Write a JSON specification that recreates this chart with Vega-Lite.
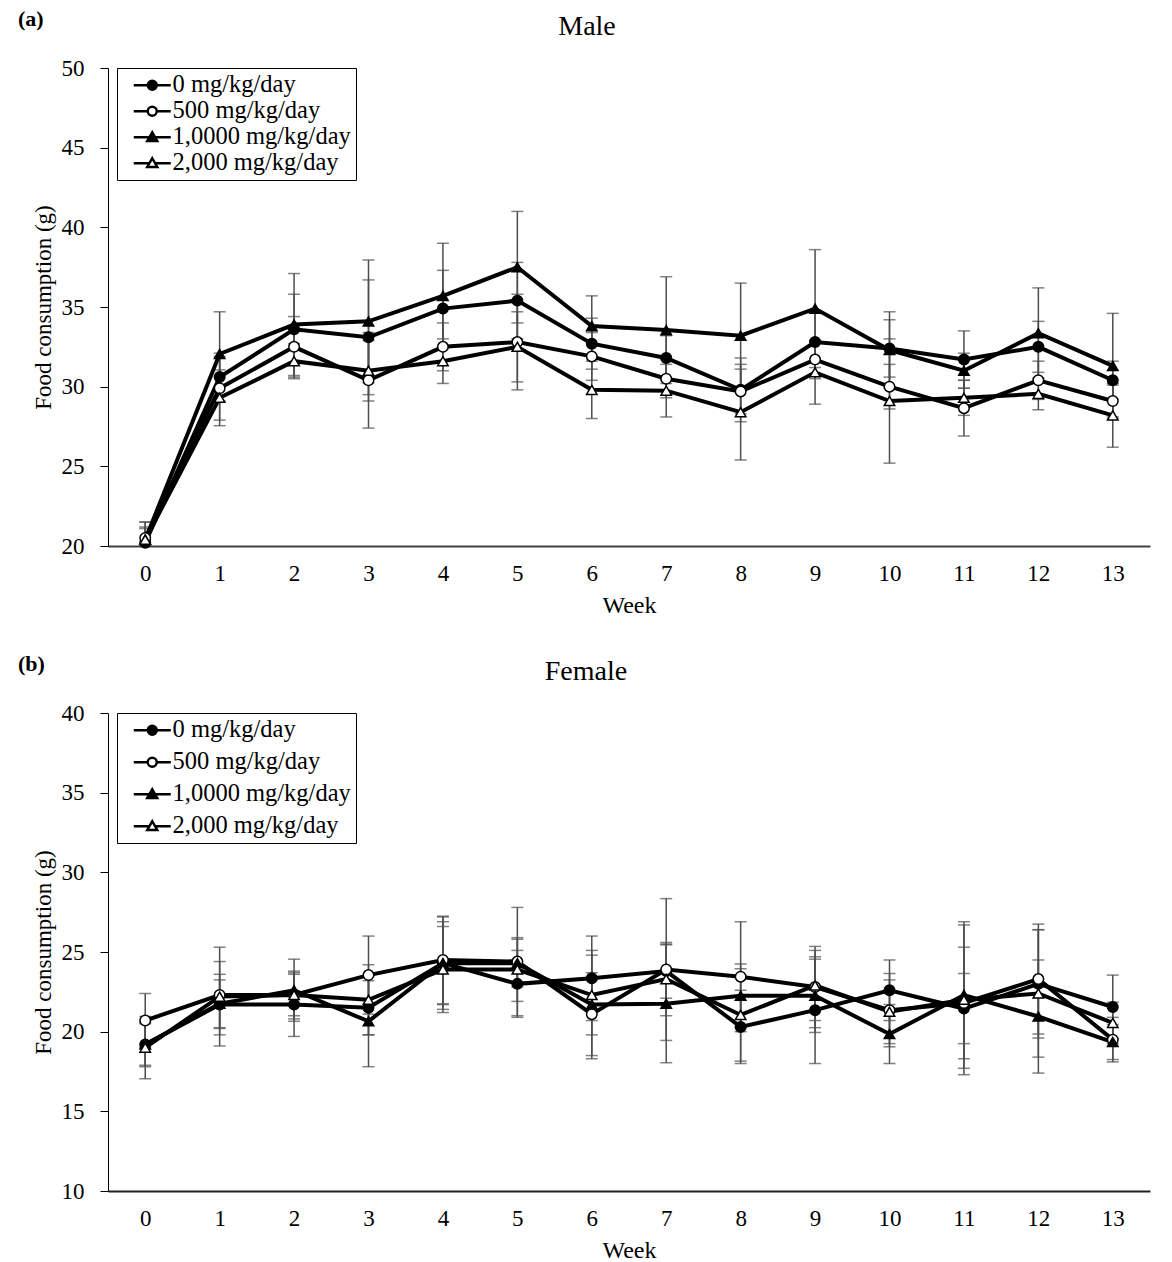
{
 "$schema": "https://vega.github.io/schema/vega-lite/v6.json",
 "background": "white",
 "padding": {"left": 18, "top": 8, "right": 15, "bottom": 5},
 "config": {
  "font": "Liberation Serif",
  "view": {"stroke": null},
  "axis": {"labelFont": "Liberation Serif", "titleFont": "Liberation Serif", "labelColor": "black", "titleColor": "black", "labelFontSize": 23, "titleFontSize": 23, "titleFontWeight": "normal", "grid": false},
  "title": {"font": "Liberation Serif", "fontWeight": "normal", "color": "black"}
 },
 "datasets": {
  "male": [
   {"w":0,"d":"0 mg/kg/day","m":20.2,"s":0.9},{"w":0,"d":"500 mg/kg/day","m":20.5,"s":1.0},{"w":0,"d":"1,0000 mg/kg/day","m":20.4,"s":0.8},{"w":0,"d":"2,000 mg/kg/day","m":20.4,"s":1.1},
   {"w":1,"d":"0 mg/kg/day","m":30.6,"s":1.5},{"w":1,"d":"500 mg/kg/day","m":29.9,"s":2.0},{"w":1,"d":"1,0000 mg/kg/day","m":32.05,"s":2.65},{"w":1,"d":"2,000 mg/kg/day","m":29.3,"s":1.75},
   {"w":2,"d":"0 mg/kg/day","m":33.6,"s":2.2},{"w":2,"d":"500 mg/kg/day","m":32.5,"s":1.9},{"w":2,"d":"1,0000 mg/kg/day","m":33.9,"s":3.2},{"w":2,"d":"2,000 mg/kg/day","m":31.6,"s":1.1},
   {"w":3,"d":"0 mg/kg/day","m":33.1,"s":3.6},{"w":3,"d":"500 mg/kg/day","m":30.4,"s":3.0},{"w":3,"d":"1,0000 mg/kg/day","m":34.1,"s":3.85},{"w":3,"d":"2,000 mg/kg/day","m":31.0,"s":1.9},
   {"w":4,"d":"0 mg/kg/day","m":34.9,"s":2.4},{"w":4,"d":"500 mg/kg/day","m":32.5,"s":1.5},{"w":4,"d":"1,0000 mg/kg/day","m":35.7,"s":3.3},{"w":4,"d":"2,000 mg/kg/day","m":31.6,"s":1.4},
   {"w":5,"d":"0 mg/kg/day","m":35.4,"s":2.4},{"w":5,"d":"500 mg/kg/day","m":32.8,"s":3.0},{"w":5,"d":"1,0000 mg/kg/day","m":37.5,"s":3.5},{"w":5,"d":"2,000 mg/kg/day","m":32.5,"s":2.2},
   {"w":6,"d":"0 mg/kg/day","m":32.7,"s":1.6},{"w":6,"d":"500 mg/kg/day","m":31.9,"s":1.5},{"w":6,"d":"1,0000 mg/kg/day","m":33.8,"s":1.9},{"w":6,"d":"2,000 mg/kg/day","m":29.8,"s":1.8},
   {"w":7,"d":"0 mg/kg/day","m":31.8,"s":1.4},{"w":7,"d":"500 mg/kg/day","m":30.5,"s":1.2},{"w":7,"d":"1,0000 mg/kg/day","m":33.55,"s":3.35},{"w":7,"d":"2,000 mg/kg/day","m":29.75,"s":1.65},
   {"w":8,"d":"0 mg/kg/day","m":29.8,"s":2.0},{"w":8,"d":"500 mg/kg/day","m":29.7,"s":1.4},{"w":8,"d":"1,0000 mg/kg/day","m":33.2,"s":3.3},{"w":8,"d":"2,000 mg/kg/day","m":28.4,"s":3.0},
   {"w":9,"d":"0 mg/kg/day","m":32.8,"s":2.0},{"w":9,"d":"500 mg/kg/day","m":31.7,"s":1.2},{"w":9,"d":"1,0000 mg/kg/day","m":34.9,"s":3.7},{"w":9,"d":"2,000 mg/kg/day","m":30.9,"s":2.0},
   {"w":10,"d":"0 mg/kg/day","m":32.4,"s":1.8},{"w":10,"d":"500 mg/kg/day","m":30.0,"s":1.4},{"w":10,"d":"1,0000 mg/kg/day","m":32.3,"s":2.4},{"w":10,"d":"2,000 mg/kg/day","m":29.1,"s":3.9},
   {"w":11,"d":"0 mg/kg/day","m":31.7,"s":1.8},{"w":11,"d":"500 mg/kg/day","m":28.65,"s":1.75},{"w":11,"d":"1,0000 mg/kg/day","m":31.0,"s":1.1},{"w":11,"d":"2,000 mg/kg/day","m":29.3,"s":1.1},
   {"w":12,"d":"0 mg/kg/day","m":32.5,"s":1.6},{"w":12,"d":"500 mg/kg/day","m":30.4,"s":1.2},{"w":12,"d":"1,0000 mg/kg/day","m":33.35,"s":2.85},{"w":12,"d":"2,000 mg/kg/day","m":29.55,"s":1.0},
   {"w":13,"d":"0 mg/kg/day","m":30.4,"s":1.2},{"w":13,"d":"500 mg/kg/day","m":29.1,"s":1.0},{"w":13,"d":"1,0000 mg/kg/day","m":31.3,"s":3.3},{"w":13,"d":"2,000 mg/kg/day","m":28.2,"s":2.0}
  ],
  "female": [
   {"w":0,"d":"0 mg/kg/day","m":19.2,"s":1.3},{"w":0,"d":"500 mg/kg/day","m":20.7,"s":1.7},{"w":0,"d":"1,0000 mg/kg/day","m":19.2,"s":1.4},{"w":0,"d":"2,000 mg/kg/day","m":19.0,"s":1.95},
   {"w":1,"d":"0 mg/kg/day","m":21.7,"s":1.9},{"w":1,"d":"500 mg/kg/day","m":22.3,"s":2.1},{"w":1,"d":"1,0000 mg/kg/day","m":21.75,"s":1.5},{"w":1,"d":"2,000 mg/kg/day","m":22.2,"s":3.1},
   {"w":2,"d":"0 mg/kg/day","m":21.7,"s":2.0},{"w":2,"d":"500 mg/kg/day","m":22.3,"s":1.5},{"w":2,"d":"1,0000 mg/kg/day","m":22.6,"s":1.95},{"w":2,"d":"2,000 mg/kg/day","m":22.3,"s":1.3},
   {"w":3,"d":"0 mg/kg/day","m":21.5,"s":1.7},{"w":3,"d":"500 mg/kg/day","m":23.55,"s":2.45},{"w":3,"d":"1,0000 mg/kg/day","m":20.65,"s":2.85},{"w":3,"d":"2,000 mg/kg/day","m":22.0,"s":2.2},
   {"w":4,"d":"0 mg/kg/day","m":24.3,"s":2.9},{"w":4,"d":"500 mg/kg/day","m":24.5,"s":2.75},{"w":4,"d":"1,0000 mg/kg/day","m":24.3,"s":2.6},{"w":4,"d":"2,000 mg/kg/day","m":23.9,"s":2.7},
   {"w":5,"d":"0 mg/kg/day","m":23.0,"s":2.1},{"w":5,"d":"500 mg/kg/day","m":24.4,"s":3.4},{"w":5,"d":"1,0000 mg/kg/day","m":24.3,"s":1.5},{"w":5,"d":"2,000 mg/kg/day","m":23.9,"s":2.0},
   {"w":6,"d":"0 mg/kg/day","m":23.35,"s":2.65},{"w":6,"d":"500 mg/kg/day","m":21.1,"s":2.6},{"w":6,"d":"1,0000 mg/kg/day","m":21.7,"s":3.4},{"w":6,"d":"2,000 mg/kg/day","m":22.3,"s":2.5},
   {"w":7,"d":"0 mg/kg/day","m":23.8,"s":1.7},{"w":7,"d":"500 mg/kg/day","m":23.9,"s":4.45},{"w":7,"d":"1,0000 mg/kg/day","m":21.75,"s":3.7},{"w":7,"d":"2,000 mg/kg/day","m":23.3,"s":2.3},
   {"w":8,"d":"0 mg/kg/day","m":20.3,"s":2.3},{"w":8,"d":"500 mg/kg/day","m":23.45,"s":3.45},{"w":8,"d":"1,0000 mg/kg/day","m":22.25,"s":2.0},{"w":8,"d":"2,000 mg/kg/day","m":21.05,"s":2.9},
   {"w":9,"d":"0 mg/kg/day","m":21.35,"s":3.35},{"w":9,"d":"500 mg/kg/day","m":22.8,"s":2.55},{"w":9,"d":"1,0000 mg/kg/day","m":22.25,"s":2.3},{"w":9,"d":"2,000 mg/kg/day","m":22.9,"s":2.2},
   {"w":10,"d":"0 mg/kg/day","m":22.6,"s":1.9},{"w":10,"d":"500 mg/kg/day","m":21.35,"s":2.3},{"w":10,"d":"1,0000 mg/kg/day","m":19.85,"s":1.85},{"w":10,"d":"2,000 mg/kg/day","m":21.25,"s":2.0},
   {"w":11,"d":"0 mg/kg/day","m":21.45,"s":2.2},{"w":11,"d":"500 mg/kg/day","m":21.8,"s":3.5},{"w":11,"d":"1,0000 mg/kg/day","m":22.3,"s":4.6},{"w":11,"d":"2,000 mg/kg/day","m":22.0,"s":4.7},
   {"w":12,"d":"0 mg/kg/day","m":23.0,"s":3.4},{"w":12,"d":"500 mg/kg/day","m":23.3,"s":3.45},{"w":12,"d":"1,0000 mg/kg/day","m":20.95,"s":3.55},{"w":12,"d":"2,000 mg/kg/day","m":22.4,"s":4.0},
   {"w":13,"d":"0 mg/kg/day","m":21.55,"s":2.0},{"w":13,"d":"500 mg/kg/day","m":19.5,"s":1.4},{"w":13,"d":"1,0000 mg/kg/day","m":19.35,"s":1.1},{"w":13,"d":"2,000 mg/kg/day","m":20.55,"s":1.3}
  ]
 },
 "spacing": 36,
 "vconcat": [
  {
   "title": {"text": "(a)", "anchor": "start", "frame": "bounds", "fontSize": 22, "fontWeight": "bold", "offset": -18, "dx": -14},
   "vconcat": [
    {
     "data": {"name": "male"},
     "width": 1042,
     "height": 478,
     "title": {"text": "Male", "fontSize": 28, "offset": 16, "dx": -42},
     "resolve": {"scale": {"shape": "independent"}},
     "layer": [
      {
       "mark": {"type": "errorbar", "ticks": true, "size": 12, "color": "#4d4d4d", "thickness": 1.5},
       "encoding": {
        "x": {"field": "w", "type": "ordinal", "scale": {"type": "point", "padding": 0.5}, "axis": {"title": "Week", "titleFontSize": 24, "labelAngle": 0, "ticks": false, "domainColor": "#404040", "domainWidth": 2, "labelPadding": 16, "titlePadding": 8}},
        "y": {"field": "m", "type": "quantitative", "scale": {"domain": [20, 50], "clamp": true, "nice": false, "zero": false}, "axis": {"title": "Food consumption (g)", "values": [20, 25, 30, 35, 40, 45, 50], "tickSize": 8, "tickColor": "black", "domainColor": "black", "labelPadding": 16, "titlePadding": 6}},
        "yError": {"field": "s"},
        "detail": {"field": "d"}
       }
      },
      {
       "mark": {"type": "line", "color": "black", "strokeWidth": 4},
       "encoding": {
        "x": {"field": "w", "type": "ordinal"},
        "y": {"field": "m", "type": "quantitative"},
        "detail": {"field": "d"}
       }
      },
      {
       "mark": {"type": "point", "filled": true, "size": 110, "stroke": "black", "strokeWidth": 1.5, "opacity": 1},
       "encoding": {
        "x": {"field": "w", "type": "ordinal"},
        "y": {"field": "m", "type": "quantitative"},
        "fill": {"field": "d", "type": "nominal", "scale": {"domain": ["0 mg/kg/day", "500 mg/kg/day", "1,0000 mg/kg/day", "2,000 mg/kg/day"], "range": ["black", "white", "black", "white"]}, "legend": null},
        "shape": {"field": "d", "type": "nominal", "scale": {"domain": ["0 mg/kg/day", "500 mg/kg/day", "1,0000 mg/kg/day", "2,000 mg/kg/day"], "range": ["circle", "circle", "triangle-up", "triangle-up"]}, "legend": null},
        "detail": {"field": "d"}
       }
      },
      {
       "mark": {"type": "point", "filled": false, "size": 100, "opacity": 0, "color": "black", "stroke": "black"},
       "encoding": {
        "x": {"field": "w", "type": "ordinal"},
        "y": {"field": "m", "type": "quantitative"},
        "shape": {"field": "d", "type": "nominal", "scale": {"domain": ["0 mg/kg/day", "500 mg/kg/day", "1,0000 mg/kg/day", "2,000 mg/kg/day"], "range": ["M-3.7,0L3.7,0M0.9,0A0.9,0.9,0,1,1,-0.9,0A0.9,0.9,0,1,1,0.9,0ZM0.4,0A0.4,0.4,0,1,1,-0.4,0A0.4,0.4,0,1,1,0.4,0Z", "M-3.7,0L-0.9,0M0.9,0L3.7,0M0.9,0A0.9,0.9,0,1,1,-0.9,0A0.9,0.9,0,1,1,0.9,0Z", "M-3.7,0L3.7,0M0,-1L1,0.75L-1,0.75ZM0,-0.36L0.45,0.43L-0.45,0.43Z", "M-3.7,0L-0.6,0M0.6,0L3.7,0M0,-1L1,0.75L-1,0.75Z"]},
         "legend": {"title": null, "orient": "none", "legendX": 9, "legendY": 0, "strokeColor": "black", "fillColor": "white", "padding": 5, "labelFontSize": 24.5, "labelFont": "Liberation Serif", "labelColor": "black", "labelLimit": 400, "symbolSize": 100, "symbolOffset": 18, "labelOffset": 8, "rowPadding": 1, "symbolStrokeWidth": 2.5, "symbolStrokeColor": "black"}
        }
       }
      }
     ]
    }
   ]
  },
  {
   "title": {"text": "(b)", "anchor": "start", "frame": "bounds", "fontSize": 22, "fontWeight": "bold", "offset": -18, "dx": -14},
   "vconcat": [
    {
     "data": {"name": "female"},
     "width": 1042,
     "height": 478,
     "title": {"text": "Female", "fontSize": 28, "offset": 16, "dx": -43},
     "resolve": {"scale": {"shape": "independent"}},
     "layer": [
      {
       "mark": {"type": "errorbar", "ticks": true, "size": 12, "color": "#4d4d4d", "thickness": 1.5},
       "encoding": {
        "x": {"field": "w", "type": "ordinal", "scale": {"type": "point", "padding": 0.5}, "axis": {"title": "Week", "titleFontSize": 24, "labelAngle": 0, "ticks": false, "domainColor": "#202020", "domainWidth": 2, "labelPadding": 16, "titlePadding": 8}},
        "y": {"field": "m", "type": "quantitative", "scale": {"domain": [10, 40], "clamp": true, "nice": false, "zero": false}, "axis": {"title": "Food consumption (g)", "values": [10, 15, 20, 25, 30, 35, 40], "tickSize": 8, "tickColor": "black", "domainColor": "black", "labelPadding": 16, "titlePadding": 6}},
        "yError": {"field": "s"},
        "detail": {"field": "d"}
       }
      },
      {
       "mark": {"type": "line", "color": "black", "strokeWidth": 4},
       "encoding": {
        "x": {"field": "w", "type": "ordinal"},
        "y": {"field": "m", "type": "quantitative"},
        "detail": {"field": "d"}
       }
      },
      {
       "mark": {"type": "point", "filled": true, "size": 110, "stroke": "black", "strokeWidth": 1.5, "opacity": 1},
       "encoding": {
        "x": {"field": "w", "type": "ordinal"},
        "y": {"field": "m", "type": "quantitative"},
        "fill": {"field": "d", "type": "nominal", "scale": {"domain": ["0 mg/kg/day", "500 mg/kg/day", "1,0000 mg/kg/day", "2,000 mg/kg/day"], "range": ["black", "white", "black", "white"]}, "legend": null},
        "shape": {"field": "d", "type": "nominal", "scale": {"domain": ["0 mg/kg/day", "500 mg/kg/day", "1,0000 mg/kg/day", "2,000 mg/kg/day"], "range": ["circle", "circle", "triangle-up", "triangle-up"]}, "legend": null},
        "detail": {"field": "d"}
       }
      },
      {
       "mark": {"type": "point", "filled": false, "size": 100, "opacity": 0, "color": "black", "stroke": "black"},
       "encoding": {
        "x": {"field": "w", "type": "ordinal"},
        "y": {"field": "m", "type": "quantitative"},
        "shape": {"field": "d", "type": "nominal", "scale": {"domain": ["0 mg/kg/day", "500 mg/kg/day", "1,0000 mg/kg/day", "2,000 mg/kg/day"], "range": ["M-3.7,0L3.7,0M0.9,0A0.9,0.9,0,1,1,-0.9,0A0.9,0.9,0,1,1,0.9,0ZM0.4,0A0.4,0.4,0,1,1,-0.4,0A0.4,0.4,0,1,1,0.4,0Z", "M-3.7,0L-0.9,0M0.9,0L3.7,0M0.9,0A0.9,0.9,0,1,1,-0.9,0A0.9,0.9,0,1,1,0.9,0Z", "M-3.7,0L3.7,0M0,-1L1,0.75L-1,0.75ZM0,-0.36L0.45,0.43L-0.45,0.43Z", "M-3.7,0L-0.6,0M0.6,0L3.7,0M0,-1L1,0.75L-1,0.75Z"]},
         "legend": {"title": null, "orient": "none", "legendX": 9, "legendY": 0, "strokeColor": "black", "fillColor": "white", "padding": 5, "labelFontSize": 24.5, "labelFont": "Liberation Serif", "labelColor": "black", "labelLimit": 400, "symbolSize": 100, "symbolOffset": 18, "labelOffset": 8, "rowPadding": 7, "symbolStrokeWidth": 2.5, "symbolStrokeColor": "black"}
        }
       }
      }
     ]
    }
   ]
  }
 ]
}
